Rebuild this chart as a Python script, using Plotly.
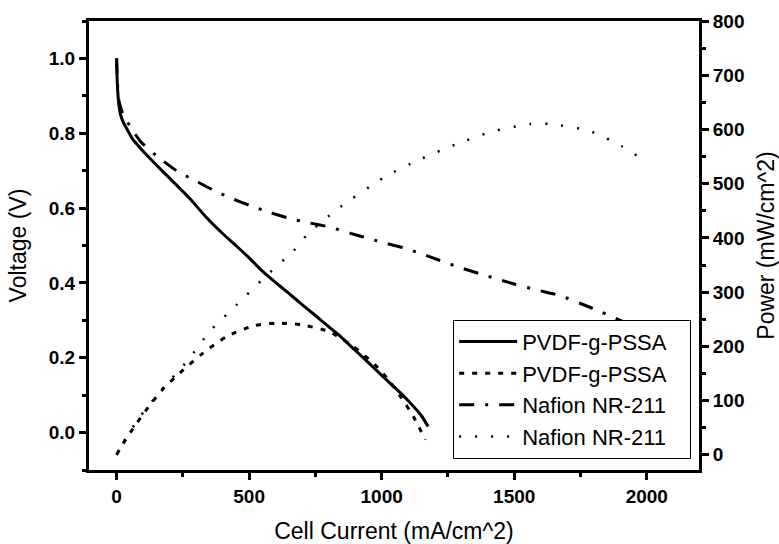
import plotly.graph_objects as go

# PVDF-g-PSSA polarization (voltage) curve
pvdf_current_v = [0, 3, 8, 15, 25, 40, 60, 90, 120, 150, 200, 277, 340, 400, 450, 500,
                  552, 600, 650, 700, 750, 800, 843, 900, 950, 1000, 1050, 1100, 1150, 1175]
pvdf_voltage = [1.00, 0.93, 0.88, 0.85, 0.83, 0.81, 0.785, 0.76, 0.737, 0.715, 0.68, 0.625,
                0.574, 0.532, 0.50, 0.467, 0.43, 0.401, 0.372, 0.342, 0.313, 0.283, 0.258,
                0.22, 0.187, 0.153, 0.12, 0.085, 0.045, 0.016]

# PVDF-g-PSSA power curve
pvdf_current_p = [0, 25, 60, 126, 180, 239, 327, 415, 516, 604, 692, 798, 893, 975, 1019,
                  1075, 1120, 1165]
pvdf_power = [0, 21, 47, 92, 124, 151, 188, 218, 238, 243, 240, 228, 200, 166, 142, 105, 70, 28]

# Nafion NR-211 polarization (voltage) curve
nafion_current_v = [0, 3, 8, 15, 25, 50, 88, 150, 226, 300, 365, 430, 503, 580, 654, 730, 805,
                    880, 955, 1020, 1082, 1150, 1220, 1300, 1396, 1500, 1580, 1673, 1750, 1830,
                    1900, 1962, 1990]
nafion_voltage = [1.00, 0.94, 0.89, 0.87, 0.85, 0.82, 0.78, 0.74, 0.70, 0.672, 0.648, 0.627,
                  0.607, 0.588, 0.572, 0.56, 0.549, 0.533, 0.518, 0.505, 0.494, 0.478, 0.46,
                  0.44, 0.419, 0.397, 0.382, 0.366, 0.345, 0.322, 0.30, 0.281, 0.273]

# Nafion NR-211 power curve
nafion_current_p = [0, 25, 88, 163, 270, 352, 452, 560, 669, 717, 830, 1013, 1145, 1277, 1415,
                    1560, 1635, 1780, 1906, 1990]
nafion_power = [0, 23, 70, 116, 175, 228, 276, 328, 377, 405, 452, 513, 545, 572, 596, 610,
                610, 598, 569, 543]

legend_names = ["PVDF-g-PSSA", "PVDF-g-PSSA", "Nafion NR-211", "Nafion NR-211"]

# tick labels
x_ticks = [0, 500, 1000, 1500, 2000]
y_ticks = [0.0, 0.2, 0.4, 0.6, 0.8, 1.0]
y2_ticks = [0, 100, 200, 300, 400, 500, 600, 700, 800]

FONT = "Arial"
PAD = "\u00a0" * 3

fig = go.Figure()
fig.add_trace(go.Scatter(x=pvdf_current_v, y=pvdf_voltage, mode="lines",
                         name=legend_names[0] + PAD,
                         line=dict(color="black", width=3, shape="spline", smoothing=0.6)))
fig.add_trace(go.Scatter(x=pvdf_current_p, y=pvdf_power, mode="lines",
                         name=legend_names[1] + PAD, yaxis="y2",
                         line=dict(color="black", width=3, dash="5px,8px", shape="spline",
                                   smoothing=0.6)))
fig.add_trace(go.Scatter(x=nafion_current_v, y=nafion_voltage, mode="lines",
                         name=legend_names[2] + PAD,
                         line=dict(color="black", width=3, dash="15px,11px,3px,11px",
                                   shape="spline", smoothing=0.6)))
fig.add_trace(go.Scatter(x=nafion_current_p, y=nafion_power, mode="lines",
                         name=legend_names[3] + PAD, yaxis="y2",
                         line=dict(color="black", width=2.5, dash="2px,14px", shape="spline",
                                   smoothing=0.6)))

tickfont = dict(family=FONT, size=19, color="black")
titlefont = dict(family=FONT, size=23, color="black")


def bold(vals, fmt):
    return ["<b>" + fmt.format(v) + "</b>" for v in vals]


common = dict(showgrid=False, zeroline=False, showline=True, linewidth=3, linecolor="black",
              ticks="outside", ticklen=7, tickwidth=3, tickcolor="black", tickfont=tickfont,
              automargin=False)

fig.update_layout(
    width=779, height=544,
    margin=dict(l=89, r=80, t=21, b=74),
    paper_bgcolor="white", plot_bgcolor="white",
    font=dict(family=FONT, color="black"),
    showlegend=True,
    legend=dict(x=0.597, y=0.025, xanchor="left", yanchor="bottom",
                bgcolor="white", bordercolor="black", borderwidth=1,
                font=dict(family=FONT, size=22, color="black"),
                tracegroupgap=0, itemwidth=58),
    xaxis=dict(range=[-104, 2197], tickvals=x_ticks, ticktext=bold(x_ticks, "{:d}"),
               mirror=True,
               minor=dict(ticks="outside", ticklen=4, tickwidth=3, tickcolor="black",
                          tick0=0, dtick=250),
               title=dict(text="Cell Current (mA/cm^2)", font=titlefont, standoff=22),
               **common),
    yaxis=dict(range=[-0.1, 1.1], tickvals=y_ticks, ticktext=bold(y_ticks, "{:.1f}"),
               minor=dict(ticks="outside", ticklen=4, tickwidth=3, tickcolor="black",
                          tick0=0, dtick=0.1),
               title=dict(text="Voltage (V)", font=titlefont, standoff=16),
               **common),
    yaxis2=dict(range=[-28, 800], tickvals=y2_ticks, ticktext=bold(y2_ticks, "{:d}"),
                overlaying="y", side="right",
                minor=dict(ticks="outside", ticklen=4, tickwidth=3, tickcolor="black",
                           tick0=0, dtick=50),
                title=dict(text="Power (mW/cm^2)", font=titlefont, standoff=18),
                **common),
)

fig.write_html("out.html")
